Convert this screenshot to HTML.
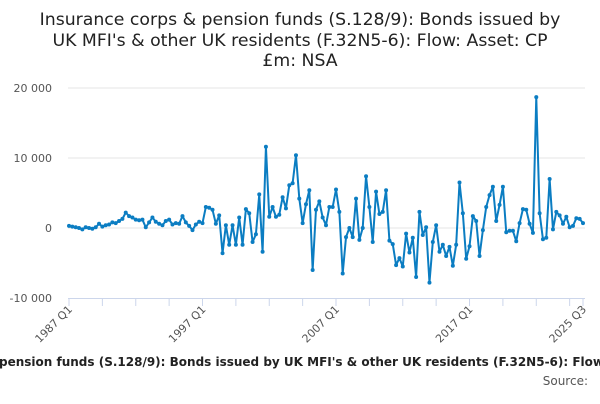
<!DOCTYPE html>
<html><head><meta charset="utf-8"><style>
body{margin:0;width:600px;height:400px;overflow:hidden;background:#fff;font-family:"DejaVu Sans",sans-serif}
</style></head><body>
<svg id="c" width="600" height="400" xmlns="http://www.w3.org/2000/svg" font-family="DejaVu Sans, sans-serif">
<g fill="#222" font-size="17.3" text-anchor="middle">
<text x="300" y="25">Insurance corps &amp; pension funds (S.128/9): Bonds issued by</text>
<text x="300" y="46">UK MFI's &amp; other UK residents (F.32N5-6): Flow: Asset: CP</text>
<text x="300" y="66">£m: NSA</text>
</g>
<g id="grid"></g><g id="yt"></g><g id="xt"></g><g id="series"></g>
<text y="366" font-size="12" font-weight="bold" fill="#222"><tspan x="-4" text-anchor="end">Insurance corps &amp; </tspan><tspan x="-1" text-anchor="start">pension funds (S.128/9): Bonds issued by UK MFI's &amp; other UK residents (F.32N5-6): Flow: Asset: CP £m: NSA</tspan></text>
<text x="588" y="385" font-size="12" fill="#555" text-anchor="end">Source:</text>
</svg>
<script>
const values = [0.3,0.2,0.1,0,-0.2,0.1,0,-0.1,0.1,0.6,0.2,0.4,0.5,0.8,0.7,1.0,1.3,2.2,1.7,1.5,1.2,1.1,1.2,0.1,0.8,1.5,0.9,0.6,0.4,1.0,1.2,0.5,0.7,0.6,1.7,0.8,0.3,-0.3,0.5,0.9,
0.7,3.0,2.9,2.6,0.6,1.8,-3.6,0.4,-2.4,0.4,-2.4,1.5,-2.4,2.7,2.1,-2.0,-0.9,4.8,-3.4,11.6,1.6,3.0,1.6,1.9,4.4,2.8,6.1,6.4,10.4,4.2,0.7,3.4,5.4,-6.0,2.6,3.8,1.5,
0.4,3.0,3.0,5.5,2.3,-6.5,-1.3,0,-1.3,4.2,-1.7,0,7.4,3.0,-2.0,5.2,2.0,2.3,5.4,-1.8,-2.3,-5.3,-4.3,-5.5,-0.8,-3.5,-1.4,-7.0,2.3,-1.0,0.1,-7.8,-2.0,0.4,-3.4,-2.4,-4.0,-2.7,-5.4,-2.4,6.5,
2.1,-4.4,-2.6,1.7,1.0,-4.0,-0.3,3.0,4.7,5.9,1.0,3.3,5.9,-0.6,-0.4,-0.4,-1.9,0.7,2.7,2.6,0.6,-0.7,18.7,2.1,-1.6,-1.4,7.0,-0.2,2.3,1.8,0.6,1.6,0.1,0.3,1.4,1.3,0.7];
const yTicks = [20000,10000,0,-10000];
const yTickLabels = ["20 000","10 000","0","-10 000"];
const xTickIdx = [0,40,80,120,154];
const xTickLabels = ["1987 Q1","1997 Q1","2007 Q1","2017 Q1","2025 Q3"];
const NS="http://www.w3.org/2000/svg";
const x0=69,x1=583;
function X(i){return x0+(x1-x0)*i/(values.length-1);}
function Y(v){return 228 - v*0.007;}
function mk(t,a,p){const e=document.createElementNS(NS,t);for(const k in a)e.setAttribute(k,a[k]);document.getElementById(p).appendChild(e);return e;}
yTicks.forEach((t,k)=>{
  if(t>yTicks[yTicks.length-1]){
    const l=mk('line',{x1:68,x2:585,y1:Y(t),y2:Y(t),stroke:'#e6e6e6','stroke-width':1},'grid');
    
    
  }
  const tx=mk('text',{x:52,y:Y(t)+4,'font-size':11,fill:'#555','text-anchor':'end'},'yt');
  tx.textContent=yTickLabels[k];
  
  
});
const ax=mk('line',{x1:68,x2:585,y1:298.5,y2:298.5,stroke:'#ccd6eb'},'xt');


const minor=[];for(let i=0;i<values.length;i+=10)minor.push(i);minor.push(values.length-1);
minor.forEach(i=>{
  const l=mk('line',{x1:X(i),x2:X(i),y1:298,y2:306,stroke:'#ccd6eb'},'xt');
  
  
});
xTickIdx.forEach((i,k)=>{
  const x=X(i)+4;
  const tx=mk('text',{x:x,y:310,'font-size':11,fill:'#555','text-anchor':'end',transform:`rotate(-45 ${x} 310)`},'xt');
  tx.textContent=xTickLabels[k];
  
  
});
const pl=mk('polyline',{points:values.map((v,i)=>X(i)+','+Y(v*1000)).join(' '),fill:'none',stroke:'#0b7dc2','stroke-width':2,'stroke-linejoin':'round'},'series');


values.forEach((v,i)=>{
  const c=mk('circle',{cx:X(i),cy:Y(v*1000),r:2,fill:'#0b7dc2'},'series');
  
  
});
</script>
</body></html>
